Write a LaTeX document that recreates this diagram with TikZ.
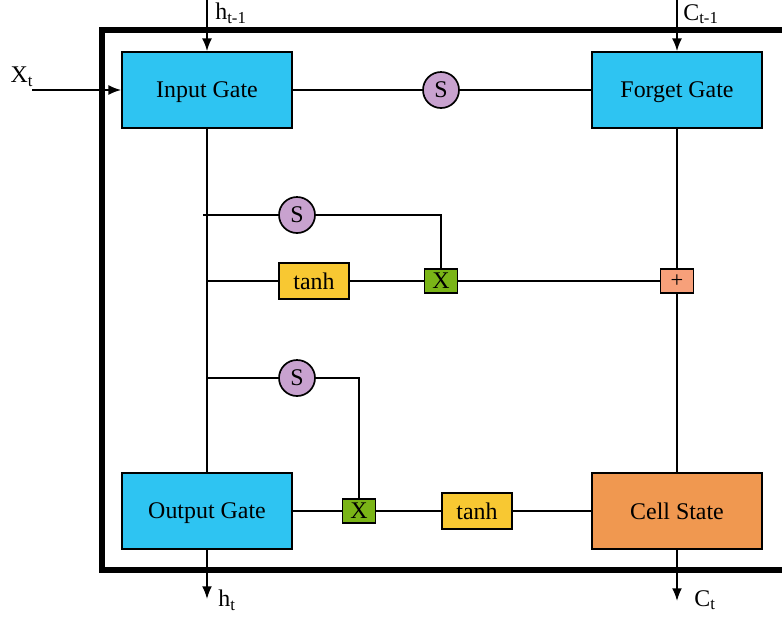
\documentclass[tikz,border=0pt]{standalone}
\usepackage{fontspec}
\setmainfont{Liberation Serif}
\usetikzlibrary{arrows.meta}
\definecolor{gateblue}{RGB}{46,196,242}
\definecolor{cellorange}{RGB}{240,152,80}
\definecolor{tanhyellow}{RGB}{248,200,50}
\definecolor{multgreen}{RGB}{122,181,23}
\definecolor{addsalmon}{RGB}{247,160,122}
\definecolor{sigpurple}{RGB}{200,162,207}
\tikzset{
gate/.style={
	  draw, fill=gateblue, line width=1.2pt, text depth=0pt,
	    minimum width=4.25cm, minimum height=1.9cm, inner sep=0pt},
cellstate/.style={gate, fill=cellorange},
sigmoid/.style={draw, circle, fill=sigpurple, line width=1.2pt,
	minimum size=0.9cm, inner sep=0pt},
tanhbox/.style={draw, fill=tanhyellow, line width=1.2pt,
	minimum width=1.75cm, minimum height=0.9cm, inner sep=0pt},
multbox/.style={draw, fill=multgreen, line width=1.2pt,
	minimum width=0.83cm, minimum height=0.6cm, inner sep=0pt},
addbox/.style={multbox, fill=addsalmon},
wire/.style={line width=1.2pt},
arr/.style={wire, -{Latex[length=9pt,width=7pt]}}
}

\begin{document}
\begin{tikzpicture}[x=0.025cm, y=-0.025cm, font=\fontsize{17}{20}\selectfont]
	\clip (0,0) rectangle (782,619);
	\draw[line width=4.3pt] (102,30) rectangle (820,570);
	% gates
	\node[gate] (ig) at (207,90) {Input Gate};
	\node[gate] (fg) at (677,90) {Forget Gate};
	\node[gate] (og) at (207,511) {Output Gate};
	\node[cellstate] (cs) at (677,511) {Cell State};
	\node[sigmoid] (s1) at (441,90) {S};
	\node[sigmoid] (s2) at (297,215) {S};
	\node[sigmoid] (s3) at (297,378) {S};
	\node[tanhbox] (t1) at (314,281) {tanh};
	\node[tanhbox] (t2) at (477,511) {tanh};
	\node[multbox] (m1) at (441,281) {X};
	\node[multbox] (m2) at (359,511) {X};
	\node[addbox, font=\fontsize{16}{18}\selectfont] (add) at (677,281) {+};
	% inputs and outputs
	\coordinate (hin) at (207,0);
	\coordinate (cin) at (677,0);
	\coordinate (xin) at (32,90);
	\coordinate (hout) at (207,599);
	\coordinate (cout) at (677,601);
	\coordinate (b1) at (203,215);
	\coordinate (b2) at (207,281);
	\coordinate (b3) at (207,378);
	\node (hinlabel) at (231,13) {h\textsubscript{t-1}};
	\node (cinlabel) at (701,14) {C\textsubscript{t-1}};
	\node (xinlabel) at (22,77) {X\textsubscript{t}};
	\node (houtlabel) at (227,600) {h\textsubscript{t}};
	\node (coutlabel) at (705,600) {C\textsubscript{t}};
	\draw[arr] (hin) -- (ig);
	\draw[arr] (cin) -- (fg);
	\draw[arr] (xin) -- (ig);
	\draw[arr] (og) -- (hout);
	\draw[arr] (cs) -- (cout);
	% connections
	\draw[wire] (ig) -- (s1) -- (fg);
	\draw[wire] (fg) -- (add) -- (cs);
	\draw[wire] (ig) -- (og);
	\draw[wire] (b1) -- (s2) -| (m1);
	\draw[wire] (b2) -- (t1) -- (m1) -- (add);
	\draw[wire] (b3) -- (s3) -| (m2);
	\draw[wire] (og) -- (m2) -- (t2) -- (cs);
\end{tikzpicture}
\end{document}
